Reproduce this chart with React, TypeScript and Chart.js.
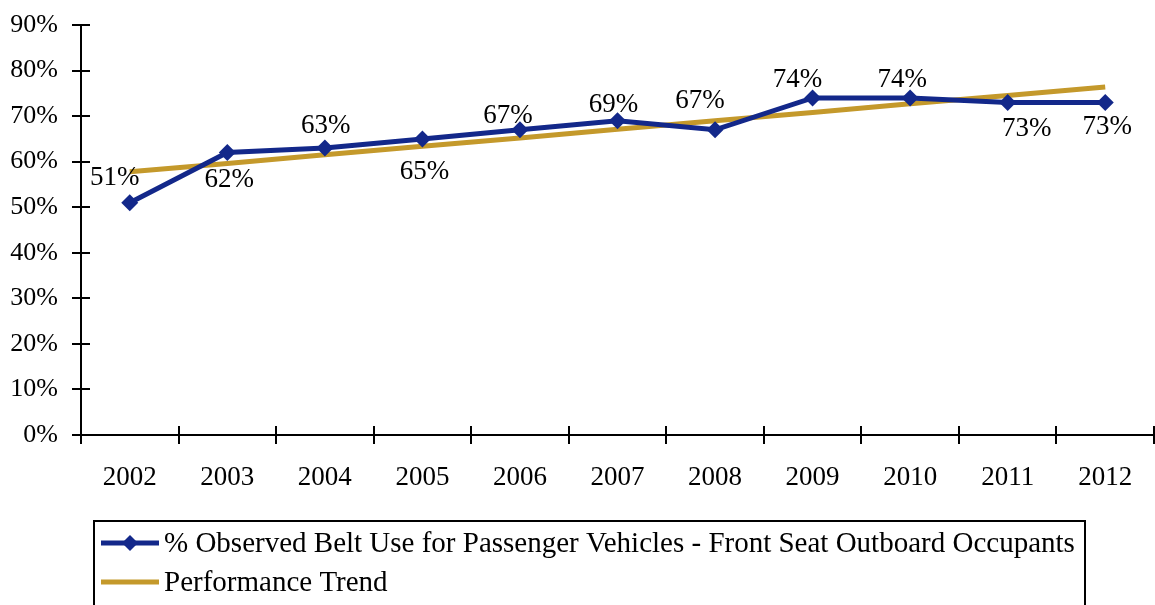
import React, { useEffect, useRef } from "react";
import { Chart, registerables } from "chart.js";

Chart.register(...registerables);

const years = ["2002", "2003", "2004", "2005", "2006", "2007", "2008", "2009", "2010", "2011", "2012"];
const beltUse = [51, 62, 63, 65, 67, 69, 67, 74, 74, 73, 73];
const trendValues = [57.8, 59.6, 61.5, 63.4, 65.2, 67.1, 69.0, 70.8, 72.7, 74.5, 76.4];
const seriesNames = [
  "% Observed Belt Use for Passenger Vehicles - Front Seat Outboard Occupants",
  "Performance Trend",
];

// label offsets (pixels) relative to each point: layout only
const labelOffsets: [number, number][] = [
  [-15, -25], [2, 27], [1, -22], [2, 33], [-12, -14], [-4, -16],
  [-15, -29], [-15, -18], [-8, -18], [19, 26], [2, 24],
];

const BLUE = "#13288a";
const GOLD = "#c4992b";
const FONT = "'Liberation Serif', 'Times New Roman', serif";

export default function App() {
  const ref = useRef<HTMLCanvasElement>(null);
  useEffect(() => {
    if (!ref.current) return;
    const extras = {
      id: "extras",
      afterDatasetsDraw(chart: any) {
        const ctx = chart.ctx;
        const meta = chart.getDatasetMeta(0);
        ctx.save();
        ctx.fillStyle = "#000";
        ctx.font = `27px ${FONT}`;
        ctx.textAlign = "center";
        ctx.textBaseline = "middle";
        meta.data.forEach((pt: any, i: number) => {
          const [dx, dy] = labelOffsets[i];
          ctx.fillText(beltUse[i] + "%", pt.x + dx, pt.y + dy);
        });
        ctx.restore();
      },
      afterDraw(chart: any) {
        const ctx = chart.ctx;
        const area = chart.chartArea;
        const xs = chart.scales.x;
        const ys = chart.scales.y;
        ctx.save();
        ctx.strokeStyle = "#000";
        ctx.lineWidth = 2;
        // inner halves of tick marks
        ys.ticks.forEach((t: any) => {
          const y = Math.round(ys.getPixelForValue(t.value));
          ctx.beginPath();
          ctx.moveTo(area.left, y);
          ctx.lineTo(area.left + 9, y);
          ctx.stroke();
        });
        for (let i = 0; i <= years.length; i++) {
          const x = Math.round(xs.getPixelForValue(i - 0.5));
          ctx.beginPath();
          ctx.moveTo(x, area.bottom);
          ctx.lineTo(x, area.bottom - 9);
          ctx.stroke();
        }
        // legend box
        ctx.lineWidth = 2;
        ctx.strokeRect(94, 521, 991, 120);
        const rows = [
          { y: 543, color: BLUE, marker: true },
          { y: 582, color: GOLD, marker: false },
        ];
        rows.forEach((r, i) => {
          ctx.strokeStyle = r.color;
          ctx.lineWidth = 5;
          ctx.beginPath();
          ctx.moveTo(101, r.y);
          ctx.lineTo(159, r.y);
          ctx.stroke();
          if (r.marker) {
            ctx.fillStyle = r.color;
            ctx.beginPath();
            ctx.moveTo(130, r.y - 8);
            ctx.lineTo(138, r.y);
            ctx.lineTo(130, r.y + 8);
            ctx.lineTo(122, r.y);
            ctx.closePath();
            ctx.fill();
          }
          ctx.fillStyle = "#000";
          ctx.font = `29px ${FONT}`;
          ctx.textAlign = "left";
          ctx.textBaseline = "middle";
          ctx.fillText(seriesNames[i], 164, r.y + 1);
        });
        ctx.restore();
      },
    };
    const chart = new Chart(ref.current, {
      type: "line",
      data: {
        labels: years,
        datasets: [
          {
            label: seriesNames[0],
            data: beltUse,
            borderColor: BLUE,
            backgroundColor: BLUE,
            borderWidth: 5,
            pointStyle: "rectRot",
            pointRadius: 8.5,
            pointBackgroundColor: BLUE,
            pointBorderWidth: 0,
            tension: 0,
            order: 1,
          },
          {
            label: seriesNames[1],
            data: trendValues,
            borderColor: GOLD,
            backgroundColor: GOLD,
            borderWidth: 5,
            pointRadius: 0,
            tension: 0,
            order: 2,
          },
        ],
      },
      options: {
        responsive: false,
        animation: false,
        layout: { autoPadding: false, padding: { top: 25, right: 1, left: 0, bottom: 0 } },
        plugins: { legend: { display: false }, tooltip: { enabled: false } },
        scales: {
          x: {
            offset: true,
            grid: { offset: true, drawOnChartArea: false, tickLength: 9, color: "#000", lineWidth: 2 },
            border: { color: "#000", width: 2 },
            ticks: { color: "#000", font: { family: FONT, size: 27 }, padding: 18, maxRotation: 0 },
            afterFit: (s: any) => { s.height = 170; s.paddingLeft = 0; s.paddingRight = 0; },
          },
          y: {
            min: 0,
            max: 90,
            grid: { drawOnChartArea: false, tickLength: 9, color: "#000", lineWidth: 2 },
            border: { color: "#000", width: 2 },
            ticks: {
              stepSize: 10,
              color: "#000",
              font: { family: FONT, size: 26 },
              padding: 14,
              callback: (v: any) => v + "%",
            },
            afterFit: (s: any) => { s.width = 81; s.paddingTop = 0; s.paddingBottom = 0; },
          },
        },
      },
      plugins: [extras],
    });
    return () => chart.destroy();
  }, []);
  return (
    <div style={{ position: "absolute", left: 0, top: 0, width: 1155, height: 605, background: "#fff" }}>
      <canvas ref={ref} width={1155} height={605} />
    </div>
  );
}
